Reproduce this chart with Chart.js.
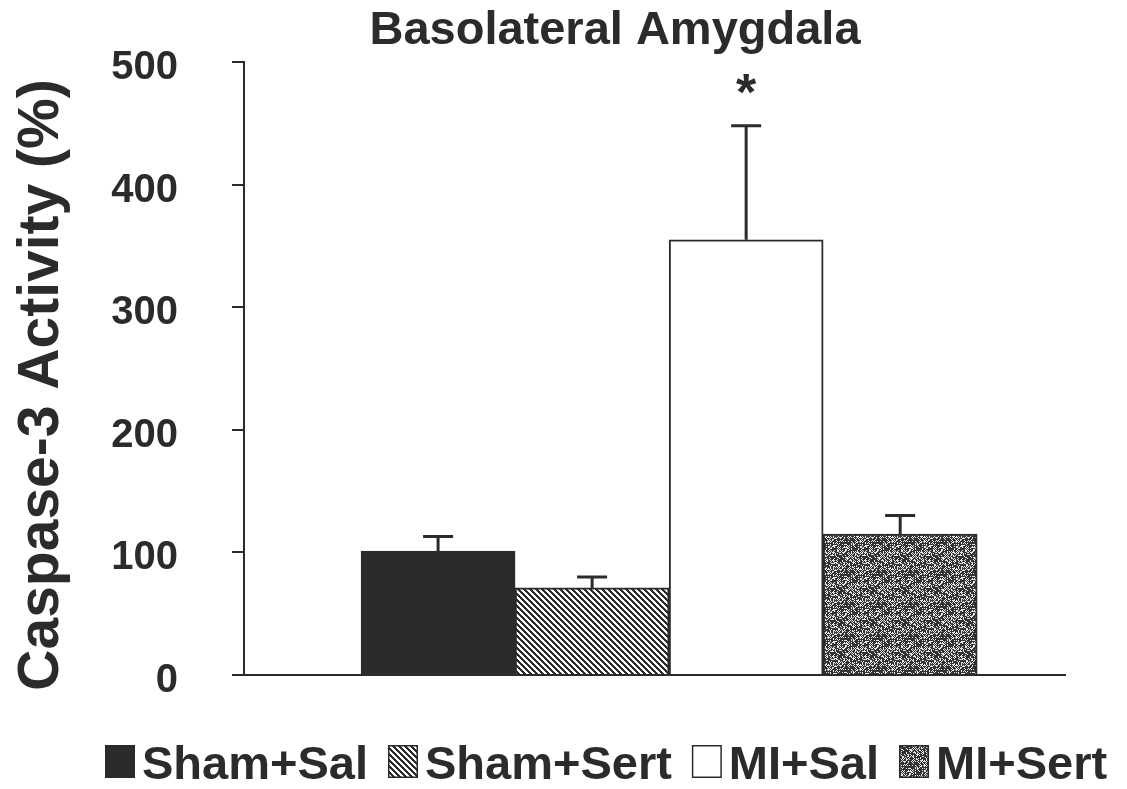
<!DOCTYPE html>
<html>
<head>
<meta charset="utf-8">
<script src="https://cdn.jsdelivr.net/npm/chart.js@4.4.1/dist/chart.umd.min.js"></script>
<style>
  html, body { margin: 0; padding: 0; background: #fff; }
  #wrap { width: 1127px; height: 789px; }
</style>
</head>
<body>
<div id="wrap"><canvas id="chart" width="1127" height="789"></canvas></div>
<script>
// caspase-3 activity per group, mean and upper SEM
const groups = ['Sham+Sal', 'Sham+Sert', 'MI+Sal', 'MI+Sert'];
const means = [101, 71, 355, 115];
const sems = [12, 9, 93, 15];
const marks = ['', '', '*', ''];
const yTicks = [0, 100, 200, 300, 400, 500];

const INK = '#2b2b2b';
const FONT = '"Liberation Sans", Arial, sans-serif';
const titleText = 'Basolateral Amygdala';
const yTitleText = 'Caspase-3 Activity (%)';

function tile(size, fn) {
  const c = document.createElement('canvas');
  c.width = c.height = size;
  const g = c.getContext('2d');
  for (let y = 0; y < size; y++) {
    for (let x = 0; x < size; x++) {
      g.fillStyle = fn(x, y);
      g.fillRect(x, y, 1, 1);
    }
  }
  return g.createPattern(c, 'repeat');
}

function hash(x, y) {
  let h = Math.imul(x, 374761393) + Math.imul(y, 668265263);
  h = Math.imul(h ^ (h >>> 13), 1274126177);
  h ^= h >>> 16;
  return (h >>> 0) / 4294967296;
}

const ctx = document.getElementById('chart').getContext('2d');

// diagonal "\" hatching and a grainy grey screen
const hatch = tile(6, (x, y) => (((x - y) % 6 + 6) % 6 < 3 ? INK : '#fff'));
const grain = tile(32, (x, y) => {
  const h = hash(x, y);
  const dark = (x + y) & 1 ? h < 0.85 : h < 0.45;
  return dark ? '#333' : '#e6e6e6';
});
const fills = [INK, hatch, '#fff', grain];

const errorBars = {
  id: 'errorBars',
  afterDatasetsDraw(chart) {
    const c = chart.ctx;
    const y = chart.scales.y;
    c.save();
    c.strokeStyle = INK;
    c.fillStyle = INK;
    c.lineWidth = 3;
    chart.getDatasetMeta(0).data.forEach((bar, i) => {
      const top = y.getPixelForValue(means[i] + sems[i]);
      c.beginPath();
      c.moveTo(bar.x, bar.y);
      c.lineTo(bar.x, top);
      c.moveTo(bar.x - 15, top);
      c.lineTo(bar.x + 15, top);
      c.stroke();
      if (marks[i]) {
        c.font = `bold 52px ${FONT}`;
        c.textAlign = 'center';
        c.textBaseline = 'alphabetic';
        c.fillText(marks[i], bar.x, top - 16);
      }
    });
    c.restore();
  }
};

const texts = {
  id: 'texts',
  afterDraw(chart) {
    const c = chart.ctx;
    c.save();
    c.fillStyle = INK;
    c.textBaseline = 'alphabetic';

    c.font = `bold 47px ${FONT}`;
    c.textAlign = 'center';
    c.fillText(titleText, 615, 44);

    c.save();
    c.translate(58, 385);
    c.rotate(-Math.PI / 2);
    c.font = `bold 57px ${FONT}`;
    c.fillText(yTitleText, 0, 0);
    c.restore();

    // legend row
    c.font = `bold 47px ${FONT}`;
    c.textAlign = 'left';
    let x = 105;
    groups.forEach((g, i) => {
      c.fillStyle = fills[i];
      c.fillRect(x, 745, 30, 33);
      c.strokeStyle = INK;
      c.lineWidth = 1.5;
      c.strokeRect(x + 0.75, 745.75, 28.5, 31.5);
      x += 37;
      c.fillStyle = INK;
      c.fillText(g, x, 779);
      x += c.measureText(g).width + 20;
    });
    c.restore();
  }
};

new Chart(ctx, {
  type: 'bar',
  data: {
    datasets: [{
      data: means.map((v, i) => ({ x: i + 1, y: v })),
      backgroundColor: fills,
      borderColor: INK,
      borderWidth: 2,
      barPercentage: 1,
      categoryPercentage: 1
    }]
  },
  options: {
    responsive: false,
    animation: false,
    layout: { padding: { top: 62, right: 62, bottom: 114, left: 0 } },
    plugins: { legend: { display: false }, tooltip: { enabled: false } },
    scales: {
      x: {
        type: 'linear',
        offset: false,
        min: -0.26,
        max: 5.07,
        afterBuildTicks: s => { s.ticks = means.map((_, i) => ({ value: i + 1 })); },
        ticks: { display: false },
        grid: { display: false },
        border: { color: INK, width: 2 },
        afterFit: s => { s.height = 0; }
      },
      y: {
        min: 0,
        max: 500,
        afterBuildTicks: s => { s.ticks = yTicks.map(v => ({ value: v })); },
        ticks: {
          padding: 54,
          labelOffset: 6,
          color: INK,
          font: { family: FONT, size: 40, weight: 'bold' }
        },
        grid: { drawOnChartArea: false, tickLength: 12, color: INK, lineWidth: 2 },
        border: { color: INK, width: 2 },
        afterFit: s => {
          s.width = 244;
          s.paddingTop = 24;
          s.paddingBottom = 24;
        }
      }
    }
  },
  plugins: [errorBars, texts]
});
</script>
</body>
</html>
